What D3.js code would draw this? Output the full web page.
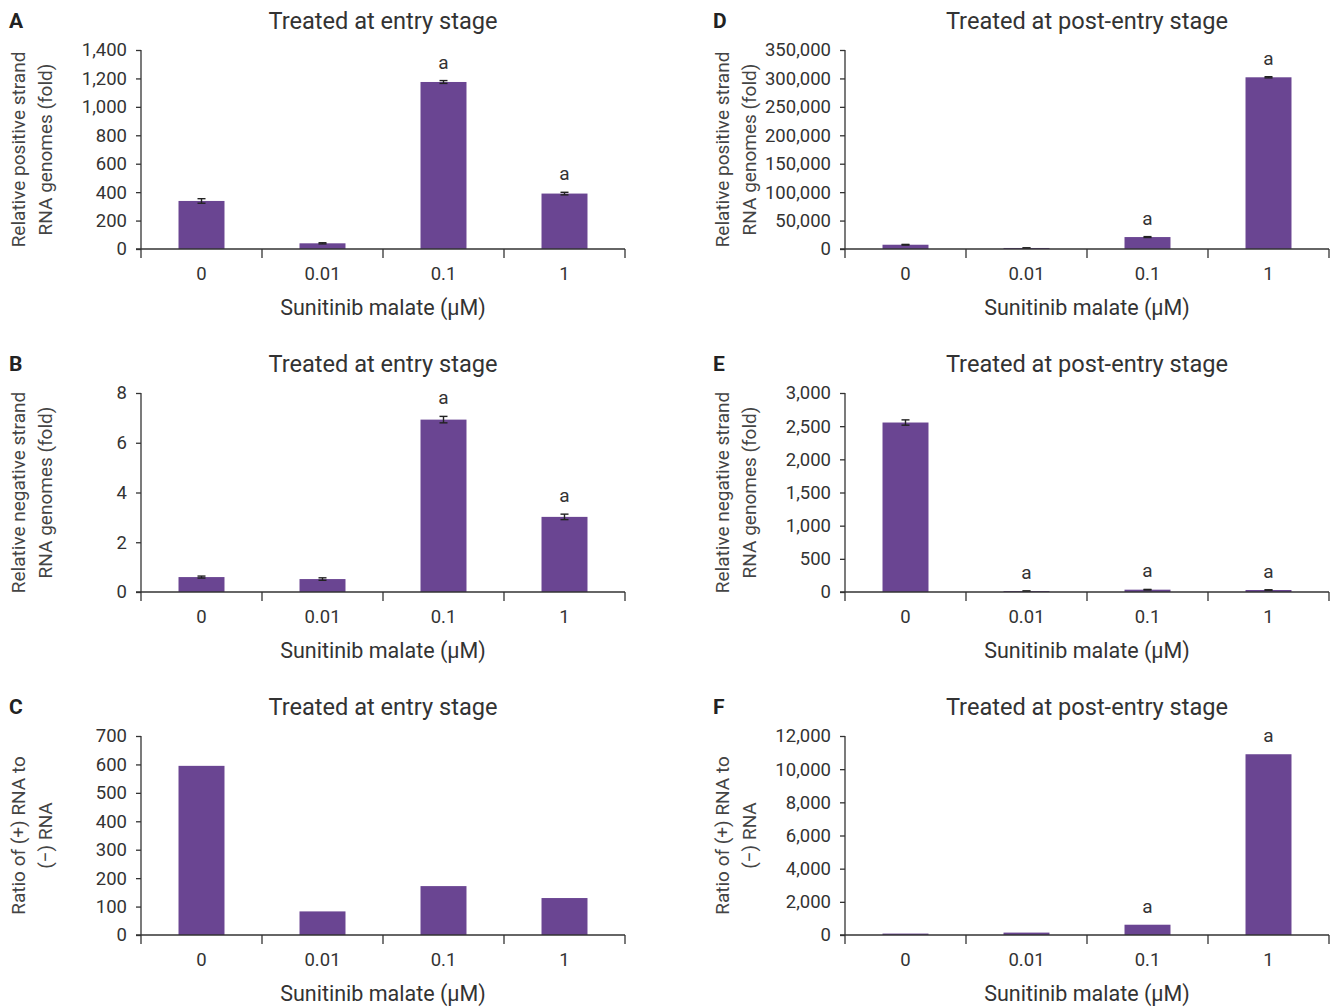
<!DOCTYPE html>
<html><head><meta charset="utf-8">
<script src="https://cdn.jsdelivr.net/npm/d3@7"></script>
<style>
html,body{margin:0;padding:0;background:#fff;}
svg{display:block;font-family:Roboto,"Noto Sans",sans-serif;}
</style></head>
<body>
<svg id="chart" width="1336" height="1007"></svg>
<script>
const categories = ["0", "0.01", "0.1", "1"];
const xAxisLabel = "Sunitinib malate (μM)";
const entryTitle = "Treated at entry stage";
const postTitle = "Treated at post-entry stage";

// Panel A: relative positive strand, entry stage
const valuesA = [338, 40, 1175, 390];
const errorsA = [16, 4, 10, 9];
const sigA = ["", "", "a", "a"];
const ticksA = [0, 200, 400, 600, 800, 1000, 1200, 1400];

// Panel B: relative negative strand, entry stage
const valuesB = [0.6, 0.52, 6.93, 3.02];
const errorsB = [0.04, 0.05, 0.13, 0.11];
const sigB = ["", "", "a", "a"];
const ticksB = [0, 2, 4, 6, 8];

// Panel C: ratio (+)/(-), entry stage
const valuesC = [595, 83, 172, 130];
const sigC = ["", "", "", ""];
const ticksC = [0, 100, 200, 300, 400, 500, 600, 700];

// Panel D: relative positive strand, post-entry stage
const valuesD = [7500, 1800, 21000, 302000];
const errorsD = [600, 300, 800, 1000];
const sigD = ["", "", "a", "a"];
const ticksD = [0, 50000, 100000, 150000, 200000, 250000, 300000, 350000];

// Panel E: relative negative strand, post-entry stage
const valuesE = [2555, 14, 35, 30];
const errorsE = [40, 2, 4, 3];
const sigE = ["", "a", "a", "a"];
const ticksE = [0, 500, 1000, 1500, 2000, 2500, 3000];

// Panel F: ratio (+)/(-), post-entry stage
const valuesF = [85, 145, 620, 10900];
const sigF = ["", "", "a", "a"];
const ticksF = [0, 2000, 4000, 6000, 8000, 10000, 12000];

const BAR = "#6a4592";
const INK = "#333333";
const svg = d3.select("#chart");
const fmt = d3.format(",");

function panel(o) {
  const g = svg.append("g").attr("transform", `translate(${o.ox},${o.oy})`);
  const left = 141, right = 625, top = 50, bottom = 249;
  const x = d3.scaleBand().domain(categories).range([left, right]).paddingInner(0.62).paddingOuter(0.31);
  const y = d3.scaleLinear().domain([0, o.ticks[o.ticks.length - 1]]).range([bottom, top]);

  // panel letter
  g.append("text").attr("x", 9).attr("y", 28).attr("font-weight", "bold")
    .attr("font-size", 21).attr("fill", "#222").attr("font-family", "Roboto, sans-serif").text(o.letter);
  // title
  g.append("text").attr("x", (left + right) / 2).attr("y", 29).attr("text-anchor", "middle")
    .attr("font-size", 23.6).attr("fill", INK).text(o.title);

  // bars
  g.selectAll("rect.bar").data(o.values).join("rect").attr("class", "bar")
    .attr("x", (d, i) => x(categories[i]))
    .attr("width", x.bandwidth())
    .attr("y", d => y(d))
    .attr("height", d => bottom - y(d))
    .attr("fill", BAR);

  // error bars
  if (o.errors) {
    o.values.forEach((v, i) => {
      const cx = x(categories[i]) + x.bandwidth() / 2;
      const e = o.errors[i];
      const y1 = y(v + e), y2 = y(v - e);
      const eg = g.append("g").attr("stroke", "#222").attr("stroke-width", 1.4);
      eg.append("line").attr("x1", cx).attr("x2", cx).attr("y1", y1).attr("y2", y2);
      eg.append("line").attr("x1", cx - 4).attr("x2", cx + 4).attr("y1", y1).attr("y2", y1);
      eg.append("line").attr("x1", cx - 4).attr("x2", cx + 4).attr("y1", y2).attr("y2", y2);
    });
  }

  // significance letters
  o.sig.forEach((s, i) => {
    if (!s) return;
    const v = o.values[i] + (o.errors ? o.errors[i] : 0);
    g.append("text").attr("x", x(categories[i]) + x.bandwidth() / 2)
      .attr("y", y(v) - 12).attr("text-anchor", "middle")
      .attr("font-size", 19).attr("fill", INK).text(s);
  });

  // y axis
  const ya = g.append("g").attr("transform", `translate(${left},0)`)
    .call(d3.axisLeft(y).tickValues(o.ticks).tickFormat(fmt).tickSize(5).tickPadding(9));
  ya.select(".domain").attr("stroke", INK).attr("stroke-width", 1.3).attr("d", `M0,${top}V${bottom}`);
  ya.selectAll(".tick line").attr("stroke", INK).attr("stroke-width", 1.3);
  ya.selectAll(".tick text").attr("font-size", 18.5).attr("fill", INK).attr("font-family", "Roboto, sans-serif");

  // x axis
  const xa = g.append("g").attr("transform", `translate(0,${bottom})`);
  xa.append("line").attr("x1", left - 5).attr("x2", right).attr("y1", 0).attr("y2", 0)
    .attr("stroke", INK).attr("stroke-width", 1.3);
  const bounds = [left].concat(categories.map(c => x(c) + x.bandwidth() + x.step() * x.paddingInner() / 2));
  bounds[bounds.length - 1] = right;
  xa.selectAll("line.tk").data(bounds).join("line").attr("class", "tk")
    .attr("x1", d => d).attr("x2", d => d).attr("y1", 0).attr("y2", 9)
    .attr("stroke", INK).attr("stroke-width", 1.3);
  xa.selectAll("text.cat").data(categories).join("text").attr("class", "cat")
    .attr("x", d => x(d) + x.bandwidth() / 2).attr("y", 31).attr("text-anchor", "middle")
    .attr("font-size", 18.5).attr("fill", INK).text(d => d);

  // x axis label
  g.append("text").attr("x", (left + right) / 2).attr("y", 315).attr("text-anchor", "middle")
    .attr("font-size", 21.5).attr("fill", INK).text(xAxisLabel);

  // y axis label (two lines)
  const cy = (top + bottom) / 2;
  o.ylabel.forEach((t, k) => {
    g.append("text").attr("transform", `translate(${25 + k * 27},${cy}) rotate(-90)`)
      .attr("text-anchor", "middle").attr("font-size", 19).attr("fill", "#444").text(t);
  });
}

panel({ox: 0, oy: 0, letter: "A", title: entryTitle, values: valuesA, errors: errorsA, sig: sigA, ticks: ticksA,
  ylabel: ["Relative positive strand", "RNA genomes (fold)"]});
panel({ox: 0, oy: 343, letter: "B", title: entryTitle, values: valuesB, errors: errorsB, sig: sigB, ticks: ticksB,
  ylabel: ["Relative negative strand", "RNA genomes (fold)"]});
panel({ox: 0, oy: 686, letter: "C", title: entryTitle, values: valuesC, errors: null, sig: sigC, ticks: ticksC,
  ylabel: ["Ratio of (+) RNA to", "(−) RNA"]});
panel({ox: 704, oy: 0, letter: "D", title: postTitle, values: valuesD, errors: errorsD, sig: sigD, ticks: ticksD,
  ylabel: ["Relative positive strand", "RNA genomes (fold)"]});
panel({ox: 704, oy: 343, letter: "E", title: postTitle, values: valuesE, errors: errorsE, sig: sigE, ticks: ticksE,
  ylabel: ["Relative negative strand", "RNA genomes (fold)"]});
panel({ox: 704, oy: 686, letter: "F", title: postTitle, values: valuesF, errors: null, sig: sigF, ticks: ticksF,
  ylabel: ["Ratio of (+) RNA to", "(−) RNA"]});
</script>
</body></html>
